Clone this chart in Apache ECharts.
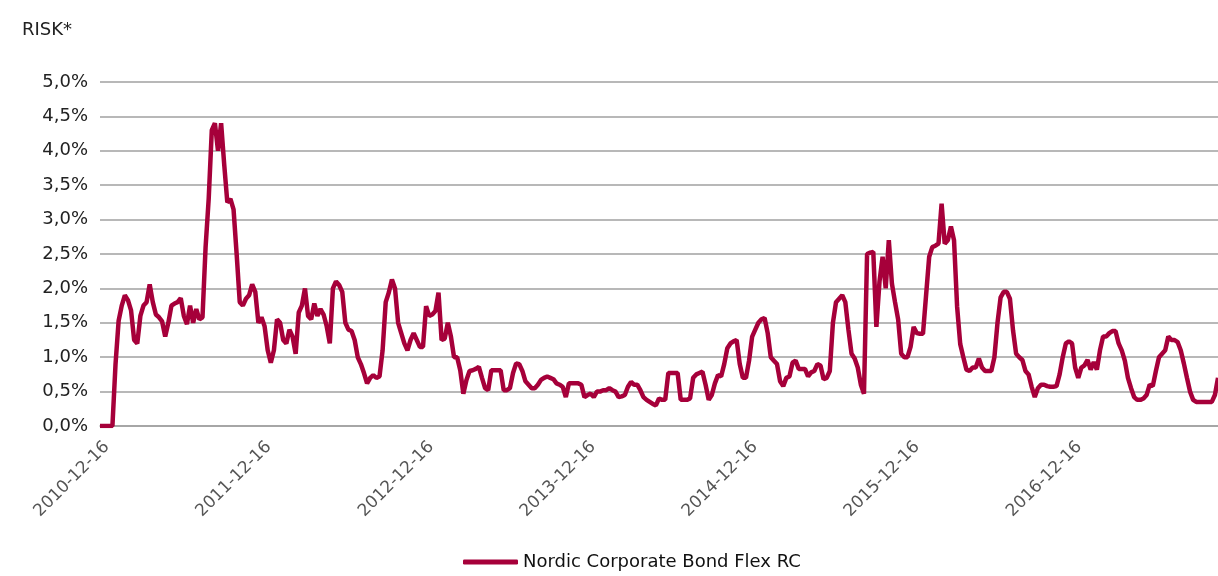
<!DOCTYPE html>
<html>
<head>
<meta charset="utf-8">
<script src="https://cdn.jsdelivr.net/npm/echarts@6/dist/echarts.min.js"></script>
<style>
  html, body { margin: 0; padding: 0; background: #fff; }
  #chart { width: 1218px; height: 576px; }
</style>
</head>
<body>
<div id="chart"></div>
<script>
// Weekly risk values (%), first week starting 2010-11-21
const startDate = '2010-11-21';
const stepDays = 7;
const seriesName = 'Nordic Corporate Bond Flex RC';
const tickLabels = ['2010-12-16','2011-12-16','2012-12-16','2013-12-16','2014-12-16','2015-12-16','2016-12-16'];

const riskPart1 = [0,0,0,0,0,0.9,1.53,1.75,1.9,1.83,1.68,1.25,1.2,1.6,1.75,1.8,2.06,1.8,1.62,1.58,
  1.52,1.3,1.5,1.75,1.78,1.8,1.86,1.6,1.48,1.75,1.5,1.7,1.55,1.58,2.6,3.3,4.3,4.4,4.0,4.4,
  3.8,3.25,3.3,3.15,2.5,1.8,1.75,1.85,1.9,2.06,1.95,1.5,1.58,1.45,1.1,0.92,1.1,1.55,1.5,1.25,
  1.2,1.4,1.3,1.05,1.65,1.75,2.0,1.6,1.55,1.78,1.6,1.7,1.62,1.45,1.2];
const riskPart2 = [2.0,2.1,2.05,1.95,1.5,1.4,1.38,1.25,1.0,0.9,
  0.77,0.62,0.7,0.74,0.7,0.72,1.1,1.8,1.94,2.13,
  2.0,1.5,1.35,1.2,1.1,1.25,1.35,1.25,1.15,1.15,
  1.74,1.6,1.62,1.67,1.94,1.25,1.27,1.5,1.3,1.0,
  1.0,0.81,0.47,0.67,0.8,0.81,0.83,0.86,0.7,0.55,
  0.52,0.81,0.81,0.81,0.81,0.52,0.52,0.55,0.77,0.91,
  0.9,0.8,0.65,0.6,0.55,0.55,0.6,0.67,0.7,0.72,
  0.7,0.68,0.62,0.6];
const riskPart3 = [0.57,0.42,0.62,0.62,0.62,0.62,0.6,0.42,0.45,0.47,
  0.42,0.5,0.5,0.52,0.52,0.55,0.52,0.5,0.42,0.43,
  0.45,0.57,0.64,0.6,0.6,0.52,0.42,0.38,0.35,0.32,
  0.3,0.4,0.38,0.38,0.77,0.77,0.77,0.77,0.38,0.38,
  0.38,0.4,0.7,0.75,0.77,0.79,0.6,0.38,0.45,0.62,
  0.74,0.72,0.9,1.13,1.2,1.23,1.25,0.9,0.7,0.7,
  0.95,1.3,1.4,1.5,1.55,1.57,1.35,1.0,0.95,0.9,
  0.65,0.58,0.7,0.72];
const riskPart4 = [0.92,0.95,0.83,0.83,0.83,0.72,0.78,0.8,0.9,0.88,
  0.68,0.7,0.8,1.5,1.8,1.85,1.9,1.8,1.4,1.05,
  0.98,0.85,0.6,0.47,2.5,2.52,2.53,1.44,2.1,2.46,
  2.0,2.7,2.07,1.8,1.55,1.05,1.0,1.0,1.15,1.44,
  1.35,1.34,1.34,1.9,2.46,2.6,2.62,2.65,3.23,2.65,
  2.7,2.9,2.7,1.73,1.19,1.0,0.82,0.8,0.85,0.85,
  0.98,0.85,0.8,0.8,0.8,1.0,1.5,1.87,1.95,1.95,
  1.85,1.39,1.05,1.0];
const riskPart5 = [0.96,0.8,0.75,0.57,0.42,0.55,0.6,0.6,0.58,0.57,
  0.57,0.58,0.75,1.0,1.2,1.23,1.2,0.85,0.7,0.85,
  0.88,0.96,0.82,0.93,0.82,1.1,1.3,1.3,1.35,1.38,
  1.38,1.2,1.1,0.95,0.7,0.55,0.42,0.38,0.38,0.4,
  0.45,0.6,0.58,0.8,1.0,1.05,1.1,1.3,1.25,1.25,
  1.22,1.1,0.91,0.7,0.5,0.38,0.35,0.35,0.35,0.35,
  0.35,0.35,0.45,0.7];

const values = [].concat(riskPart1, riskPart2, riskPart3, riskPart4, riskPart5);
const DAY = 86400000;
const t0 = Date.parse(startDate + 'T00:00:00Z');
const data = values.map((v, i) => [t0 + i * stepDays * DAY, v]);
const tEnd = t0 + (values.length - 1) * stepDays * DAY;
const tickTs = tickLabels.map(d => Date.parse(d + 'T00:00:00Z'));

const chart = echarts.init(document.getElementById('chart'));
chart.setOption({
  animation: false,
  backgroundColor: '#fff',
  textStyle: { fontFamily: 'DejaVu Sans' },
  graphic: [{
    type: 'text', left: 22, top: 21,
    style: { text: 'RISK*', font: '18px "DejaVu Sans"', fill: '#222' }
  }],
  grid: { left: 100, right: 0, top: 82, bottom: 150, containLabel: false, outerBoundsMode: 'none' },
  legend: {
    data: [seriesName],
    left: 463, top: 553, padding: 0,
    icon: 'roundRect', itemWidth: 55, itemHeight: 5, itemGap: 5,
    textStyle: { fontSize: 18, color: '#111', fontFamily: 'DejaVu Sans' }
  },
  xAxis: {
    type: 'value', min: t0, max: tEnd, scale: true,
    splitLine: { show: false },
    axisTick: { show: false },
    axisLine: { onZero: false, lineStyle: { color: '#a0a0a0', width: 1.5 } },
    axisLabel: {
      customValues: tickTs,
      rotate: 45, fontSize: 17, color: '#555', margin: 14,
      padding: [0, 6, 0, 0],
      formatter: v => new Date(v).toISOString().slice(0, 10)
    }
  },
  yAxis: {
    type: 'value', min: 0, max: 5, interval: 0.5,
    axisLine: { show: false }, axisTick: { show: false },
    splitLine: { lineStyle: { color: '#a0a0a0', width: 1.5 } },
    axisLabel: {
      fontSize: 18, color: '#222', margin: 12,
      formatter: v => v.toFixed(1).replace('.', ',') + '%'
    }
  },
  series: [{
    name: seriesName, type: 'line', data: data,
    showSymbol: false, symbol: 'none',
    lineStyle: { color: '#a6003a', width: 4.5 },
    itemStyle: { color: '#a6003a' }
  }]
});
</script>
</body>
</html>
